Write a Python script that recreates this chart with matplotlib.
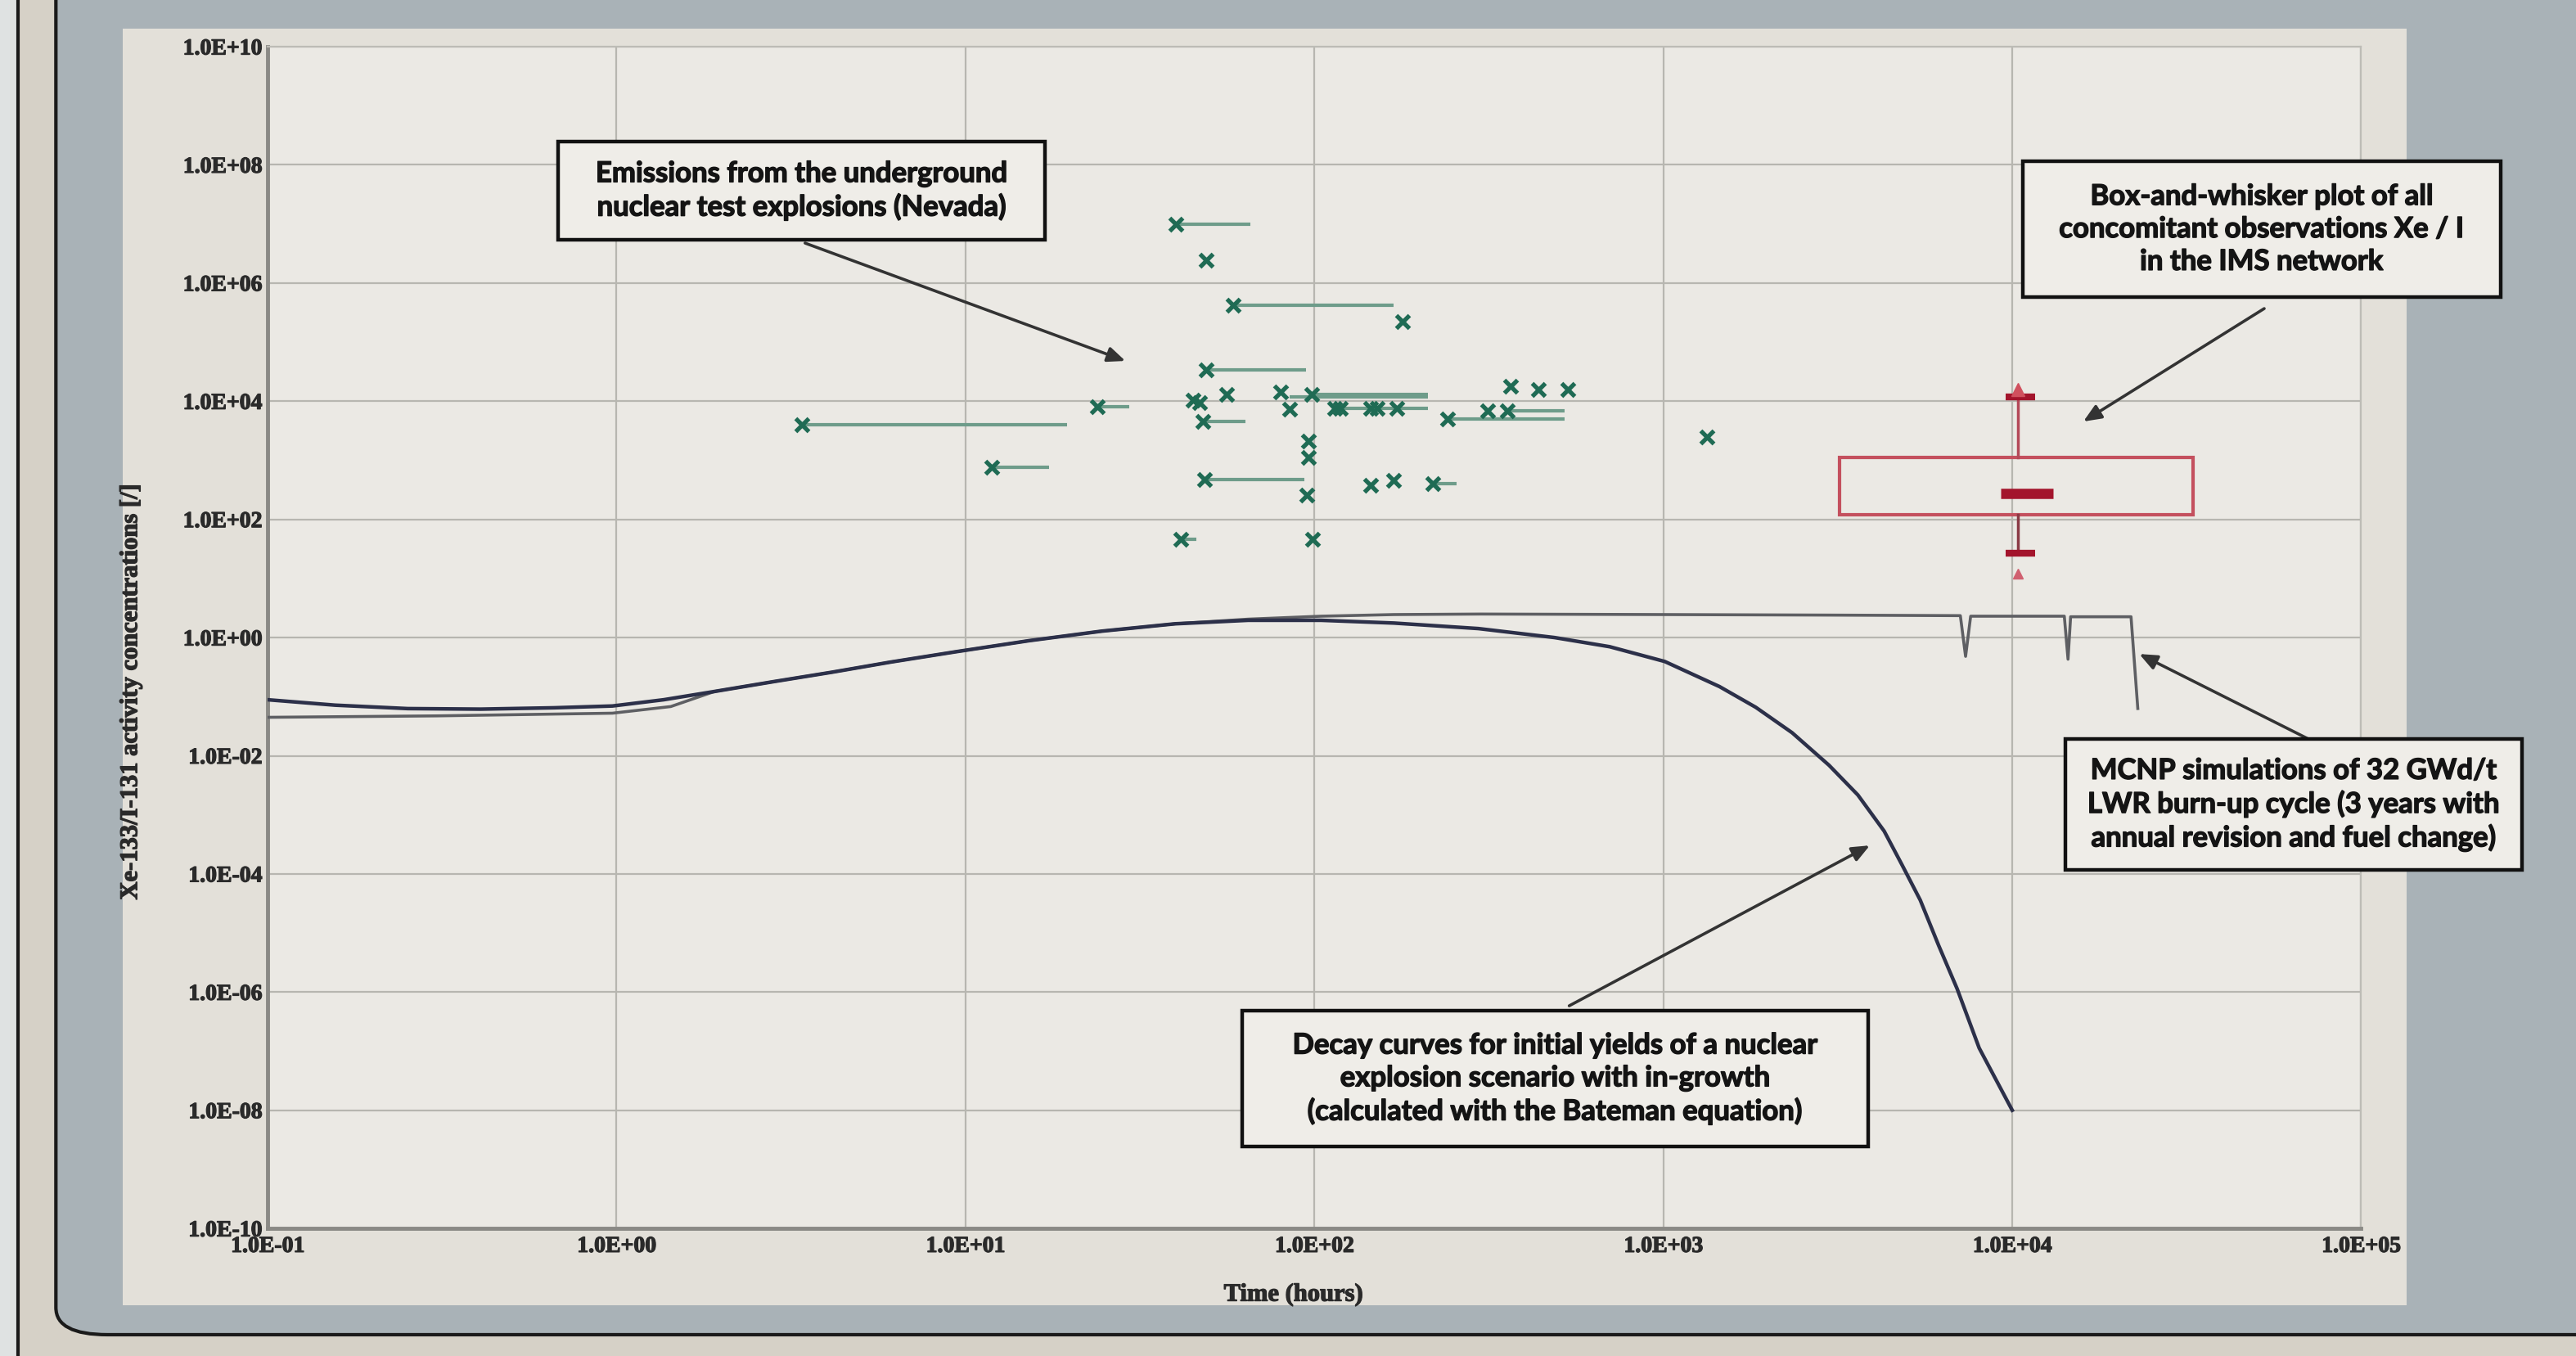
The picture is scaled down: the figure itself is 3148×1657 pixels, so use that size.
import math
import matplotlib
matplotlib.use("Agg")
import matplotlib.pyplot as plt
import matplotlib.patheffects as pe
from matplotlib.patches import Rectangle, FancyBboxPatch
from matplotlib.ticker import FixedLocator, FuncFormatter, NullLocator

# --- data ----------------------------------------------------------------
# Nevada test emissions: marker positions (time [h], Xe/I ratio)
test_t = [40, 49, 58.5, 179, 3.4, 11.9, 49, 23.9, 47, 45, 56, 48, 80, 85, 98,
          114, 119, 145, 151, 172, 96, 96, 48.4, 95, 145, 169, 219, 241, 314,
          357, 364, 438, 532, 41.4, 99, 1336]
test_r = [1.0e7, 2.4e6, 4.2e5, 2.2e5, 3.96e3, 771, 3.4e4, 8.0e3, 9.4e3, 1.05e4,
          1.3e4, 4.5e3, 1.43e4, 7.3e3, 1.3e4, 7.5e3, 7.5e3, 7.5e3, 7.5e3, 7.5e3,
          2.1e3, 1.13e3, 476, 259, 380, 461, 405, 5.0e3, 6.8e3, 6.8e3, 1.8e4,
          1.6e4, 1.6e4, 45.7, 45.7, 2.45e3]

# horizontal time ranges attached to some of the measurements
range_r = [1.0e7, 4.2e5, 3.96e3, 771, 3.4e4, 8.0e3, 4.5e3, 1.3e4, 1.2e4, 7.5e3,
           476, 405, 5.0e3, 6.8e3, 45.7]
range_t0 = [40, 58.5, 3.41, 11.9, 49, 23.9, 48, 98, 85, 114, 48.4, 219, 241, 357, 41.4]
range_t1 = [65.6, 169, 19.5, 17.4, 94.8, 29.4, 63.5, 211, 211, 211, 93.8, 255, 520, 520, 46]

# Bateman decay curve
decay_t = [0.1, 0.156, 0.252, 0.408, 0.662, 0.973, 1.365, 1.91, 2.81, 4.14, 6.09,
           9.38, 15.2, 24.6, 39.9, 64.6, 104.5, 169, 295, 488, 702, 1009, 1449,
           1841, 2340, 2985, 3610, 4295, 4830, 5450, 6150, 6950, 8040, 10000]
decay_r = [0.0887, 0.0718, 0.0628, 0.0615, 0.0648, 0.0695, 0.0887, 0.1225, 0.179,
           0.259, 0.384, 0.575, 0.885, 1.285, 1.71, 1.96, 1.96, 1.76, 1.42, 1.0,
           0.70, 0.394, 0.148, 0.066, 0.0245, 6.9e-3, 2.17e-3, 5.3e-4, 1.43e-4,
           3.6e-5, 6.2e-6, 1.14e-6, 1.13e-7, 1.0e-8]

# MCNP reactor burn-up simulation
mcnp_t = [0.1, 0.305, 0.973, 1.43, 1.91, 2.81, 4.14, 6.09, 9.38, 15.2, 24.6, 39.9,
          64.6, 104.5, 169, 300, 1000, 3000, 7100, 7350, 7600, 14100, 14450,
          14700, 21900, 22900]
mcnp_r = [0.0447, 0.0473, 0.0525, 0.068, 0.1225, 0.179, 0.259, 0.384, 0.575, 0.885,
          1.285, 1.71, 2.05, 2.3, 2.45, 2.5, 2.45, 2.4, 2.35, 0.48, 2.3, 2.3, 0.43,
          2.25, 2.25, 0.063]

# IMS box-and-whisker summary
box_t = [3.2e3, 3.3e4]          # drawn width of the box
box_center_t = 1.04e4
box_q1, box_median, box_q3 = 120, 276, 1.1e3
box_low, box_high = 27, 1.2e4
box_min, box_max = 11.9, 1.6e4

x_ticks = [1e-1, 1e0, 1e1, 1e2, 1e3, 1e4, 1e5]
y_ticks = [1e-10, 1e-8, 1e-6, 1e-4, 1e-2, 1e0, 1e2, 1e4, 1e6, 1e8, 1e10]

notes = [
    "Emissions from the underground\nnuclear test explosions (Nevada)",
    "Box-and-whisker plot of all\nconcomitant observations Xe / I\nin the IMS network",
    "MCNP simulations of 32 GWd/t\nLWR burn-up cycle (3 years with\nannual revision and fuel change)",
    "Decay curves for initial yields of a nuclear\nexplosion scenario with in-growth\n(calculated with the Bateman equation)",
]

# --- figure ---------------------------------------------------------------
fig = plt.figure(figsize=(31.48, 16.58), dpi=100)
fig.patch.set_facecolor("#d6d1c7")

# screen frame + slide panel, like the photo (kept behind the axes)
fig.patches.append(FancyBboxPatch((0.0217, 0.0157), 1.05, 1.05, transform=fig.transFigure,
                                  boxstyle="round,pad=0,rounding_size=0.02",
                                  facecolor="#a9b2b7", edgecolor="#1a1a1a", lw=3, zorder=-3))
fig.patches.append(Rectangle((0.0, 0.0), 0.007, 1.0, transform=fig.transFigure,
                             facecolor="#dfe2e2", edgecolor="none", zorder=-3))
fig.lines.append(plt.Line2D([0.007, 0.007], [0.0, 1.0], transform=fig.transFigure,
                            color="#1a1a1a", lw=3, zorder=-2))
fig.patches.append(Rectangle((0.0478, 0.0375), 0.8865, 0.9405, transform=fig.transFigure,
                             facecolor="#e3e0d9", edgecolor="none", zorder=-2))

ax = fig.add_axes([0.1039, 0.094, 0.8127, 0.871])
ax.set_zorder(5)
ax.set_facecolor("#ebe9e4")
ax.set_xscale("log")
ax.set_yscale("log")
ax.set_xlim(1e-1, 1e5)
ax.set_ylim(1e-10, 1e10)

bold = [pe.withStroke(linewidth=0.9, foreground="#2a2a2a")]

ax.xaxis.set_major_locator(FixedLocator(x_ticks))
ax.yaxis.set_major_locator(FixedLocator(y_ticks))
ax.xaxis.set_minor_locator(NullLocator())
ax.yaxis.set_minor_locator(NullLocator())
fmt = FuncFormatter(lambda v, p: "1.0E%+03d" % round(math.log10(v)))
ax.xaxis.set_major_formatter(fmt)
ax.yaxis.set_major_formatter(fmt)
ax.grid(True, color="#b7b6b0", lw=1.6)
ax.set_axisbelow(True)
ax.tick_params(axis="x", length=0, pad=7)
ax.tick_params(axis="y", length=0, pad=5)
for lab in ax.get_xticklabels() + ax.get_yticklabels():
    lab.set_fontfamily("Liberation Serif")
    lab.set_fontweight("bold")
    lab.set_fontsize(20)
    lab.set_color("#2a2a2a")
    lab.set_path_effects(bold)

for s in ["left", "bottom"]:
    ax.spines[s].set_color("#8a8985")
    ax.spines[s].set_linewidth(3.5)
for s in ["top", "right"]:
    ax.spines[s].set_color("#bdbcb6")
    ax.spines[s].set_linewidth(1.6)

ax.set_xlabel("Time (hours)", fontfamily="Liberation Serif", fontweight="bold",
              fontsize=22, color="#2a2a2a", path_effects=bold)
ax.xaxis.set_label_coords(0.490, -0.046)
ax.set_ylabel("Xe-133/I-131 activity concentrations [/]", fontfamily="Liberation Serif",
              fontweight="bold", fontsize=22, color="#2a2a2a", path_effects=bold)
ax.yaxis.set_label_coords(-0.0597, 0.454)

# curves
ax.plot(mcnp_t, mcnp_r, color="#5e5f63", lw=2.6, zorder=3)
ax.plot(decay_t, decay_r, color="#2c3049", lw=3.2, zorder=4)

# Nevada measurements
ax.hlines(range_r, range_t0, range_t1, color="#6e9c8a", lw=3, zorder=5)
ax.plot(test_t, test_r, ls="none", marker="x", ms=12, mew=3.8, color="#1f6b54", zorder=6)

# IMS box plot
ax.add_patch(Rectangle((box_t[0], box_q1), box_t[1] - box_t[0], box_q3 - box_q1,
                       fill=False, edgecolor="#c4505e", lw=3, zorder=6))
ax.plot([box_center_t, box_center_t], [box_q3, box_high], color="#b44858", lw=2.5, zorder=6)
ax.plot([box_center_t, box_center_t], [box_low, box_q1], color="#8a3a45", lw=2.5, zorder=6)
ax.plot([box_center_t * 0.89, box_center_t * 1.26], [box_median, box_median],
        color="#a3142c", lw=9, solid_capstyle="butt", zorder=7)
ax.plot([box_center_t * 0.92, box_center_t * 1.12], [box_high, box_high],
        color="#a3142c", lw=6, solid_capstyle="butt", zorder=7)
ax.plot([box_center_t * 0.92, box_center_t * 1.12], [box_low, box_low],
        color="#a3142c", lw=6, solid_capstyle="butt", zorder=7)
ax.plot([box_center_t], [box_max], marker="^", ms=12, color="#d0505e", zorder=7)
ax.plot([box_center_t], [box_min], marker="^", ms=8, color="#d06070", zorder=7)

# annotation boxes (axes fraction) and arrows
boxes = [(0.1389, 0.8366, 0.2324, 0.0831),
         (0.8383, 0.7881, 0.2284, 0.1149),
         (0.8587, 0.3033, 0.2182, 0.1108),
         (0.4655, 0.0693, 0.2990, 0.1149)]
arrows = [((0.2567, 0.8338), (0.4097, 0.7341)),
          ((0.9537, 0.7784), (0.8673, 0.6828)),
          ((0.9749, 0.4141), (0.8940, 0.4861)),
          ((0.6217, 0.1884), (0.7653, 0.3241))]
for (x0, y0, w, h), txt in zip(boxes, notes):
    ax.add_patch(Rectangle((x0, y0), w, h, transform=ax.transAxes, facecolor="#efede8",
                           edgecolor="#111111", lw=3.2, zorder=9, clip_on=False))
    ax.text(x0 + w / 2, y0 + h / 2, txt, transform=ax.transAxes, ha="center", va="center",
            fontfamily=["Lato", "DejaVu Sans"], fontweight="bold", fontsize=25,
            color="#141414", linespacing=1.3, zorder=10, clip_on=False,
            path_effects=[pe.withStroke(linewidth=1.0, foreground="#141414")])
for tail, tip in arrows:
    ax.annotate("", xy=tip, xytext=tail, xycoords="axes fraction", textcoords="axes fraction",
                arrowprops=dict(arrowstyle="-|>,head_length=1.3,head_width=0.55",
                                color="#333333", lw=2.6, shrinkA=0, shrinkB=0), zorder=8)

fig.savefig("out.png", dpi=100, facecolor=fig.get_facecolor())
